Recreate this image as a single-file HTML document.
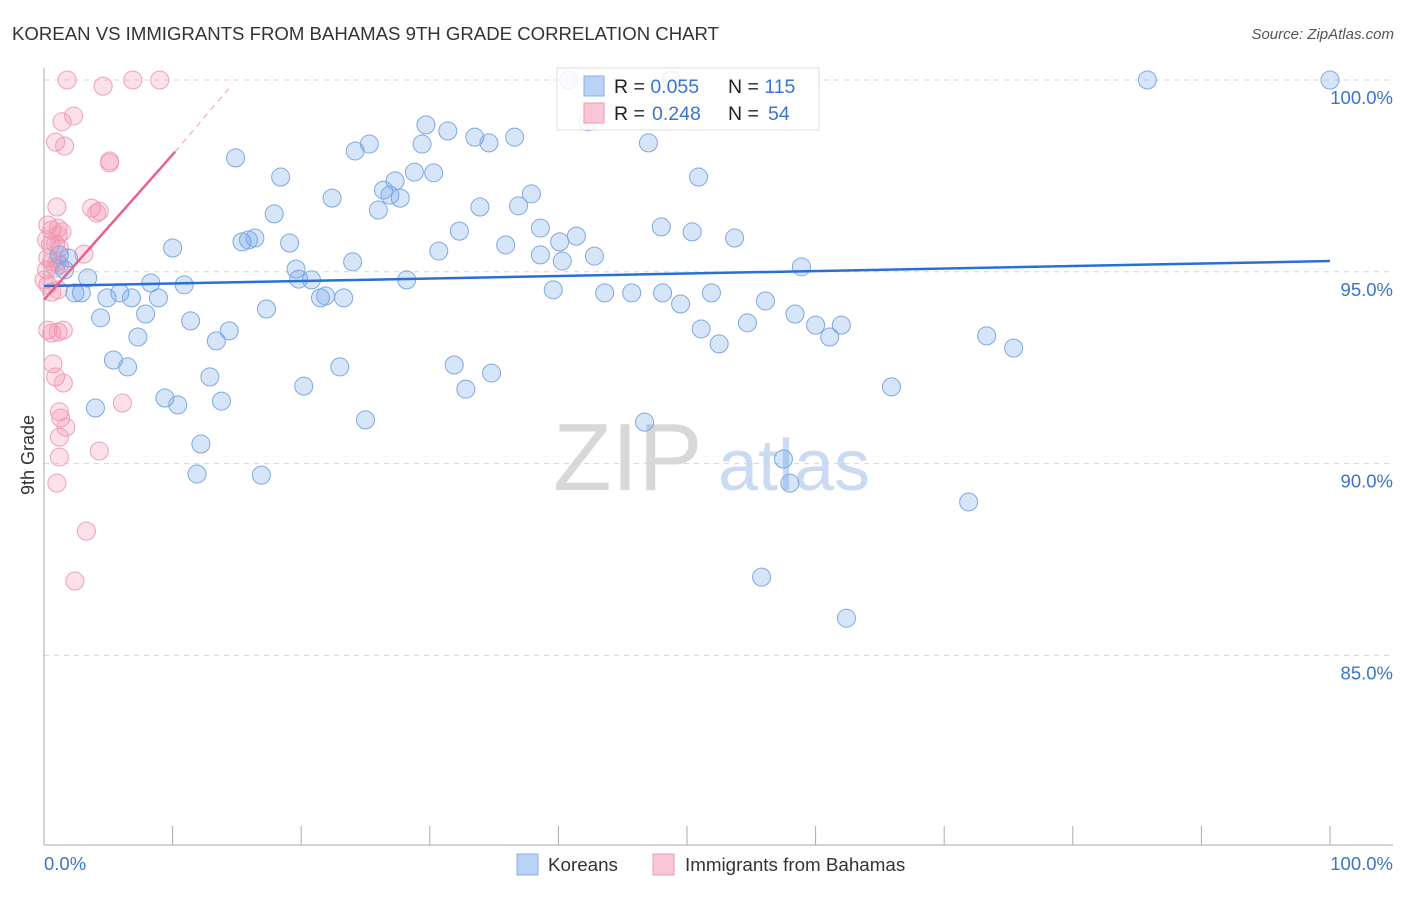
<!DOCTYPE html>
<html><head><meta charset="utf-8"><style>
body{margin:0;background:#fff;font-family:"Liberation Sans",sans-serif;}
svg text{font-family:"Liberation Sans",sans-serif;}
</style></head><body>
<svg id="chart" width="1406" height="892" viewBox="0 0 1406 892" xmlns="http://www.w3.org/2000/svg">
<text x="12" y="40" font-size="18.6" fill="#333">KOREAN VS IMMIGRANTS FROM BAHAMAS 9TH GRADE CORRELATION CHART</text>
<text x="1394" y="39" font-size="15" fill="#555" font-style="italic" text-anchor="end">Source: ZipAtlas.com</text>
<g>
<text x="553" y="490" font-size="96" fill="#d8d8d8" font-family="Liberation Serif">ZIP</text>
<text x="718" y="490" font-size="72" fill="#c9daf2">atlas</text>
</g>
<g id="grid"></g>
<g id="axes"></g>
<g id="pink"></g>
<g id="blue"></g>
<g id="trends"></g>
<text x="34" y="455" font-size="18" fill="#333" text-anchor="middle" transform="rotate(-90 34 455)">9th Grade</text>
<g>
<rect x="557" y="68" width="262" height="62" fill="#fff" fill-opacity="0.85" stroke="#ddd"/>
<rect x="584" y="76" width="20" height="20" fill="#b9d2f5" stroke="#8ab0e8"/>
<rect x="584" y="103" width="20" height="20" fill="#f8c6d4" stroke="#ef9ab3"/>
<text x="614" y="93" font-size="19.5" fill="#222">R = <tspan fill="#3a74d0">0.055</tspan><tspan x="728">N = </tspan><tspan fill="#3a74d0">115</tspan></text>
<text x="614" y="120" font-size="19.5" fill="#222">R = <tspan fill="#3a74d0" x="652">0.248</tspan><tspan x="728">N = </tspan><tspan fill="#3a74d0" x="768">54</tspan></text>
</g>
<g>
<rect x="517" y="854" width="21" height="21" fill="#b9d2f5" stroke="#8ab0e8"/>
<text x="548" y="871" font-size="18.8" fill="#333">Koreans</text>
<rect x="653" y="854" width="21" height="21" fill="#f8c6d4" stroke="#ef9ab3"/>
<text x="685" y="871" font-size="18.8" fill="#333">Immigrants from Bahamas</text>
</g>
</svg>
<script>
const blueX=[1.2,1.6,1.9,2.4,2.9,3.4,4.0,4.4,4.9,5.4,5.9,6.5,6.8,7.3,7.9,8.3,8.9,9.4,10.0,10.4,10.9,11.4,11.9,12.2,12.9,13.4,13.8,14.4,14.9,15.4,15.9,16.4,16.9,17.3,17.9,18.4,19.1,19.6,19.8,20.2,20.8,21.5,21.9,22.4,23.0,23.3,24.0,24.2,25.0,25.3,26.0,26.4,26.9,27.3,27.7,28.2,28.8,29.4,29.7,30.3,30.7,31.4,31.9,32.3,32.8,33.5,33.9,34.6,34.8,35.9,36.6,36.9,37.9,38.6,38.6,39.6,40.1,40.3,40.8,41.4,42.3,42.8,43.6,45.7,46.7,47.0,48.0,48.1,48.8,49.5,50.4,50.9,51.1,51.9,52.5,53.7,54.7,55.8,56.1,57.5,58.0,58.4,58.9,60.0,61.1,62.0,62.4,65.9,71.9,73.3,75.4,85.8,100];
const blueY=[95.44,95.05,95.36,94.45,94.45,94.84,91.45,93.80,94.32,92.70,94.45,92.52,94.32,93.30,93.90,94.71,94.32,91.71,95.62,91.53,94.66,93.72,89.73,90.51,92.26,93.20,91.63,93.46,97.97,95.78,95.83,95.88,89.70,94.03,96.51,97.47,95.75,95.07,94.81,92.02,94.79,94.32,94.37,96.92,92.52,94.32,95.26,98.15,91.14,98.33,96.61,97.13,97.00,97.37,96.92,94.79,97.60,98.33,98.83,97.58,95.54,98.67,92.57,96.06,91.94,98.51,96.69,98.36,92.36,95.70,98.51,96.72,97.03,96.14,95.44,94.53,95.78,95.28,100,95.93,98.91,95.41,94.45,94.45,91.08,98.36,96.17,94.45,100,94.16,96.04,97.47,93.51,94.45,93.12,95.88,93.67,87.04,94.24,90.12,89.49,93.90,95.13,93.61,93.30,93.61,85.97,92.00,89.00,93.33,93.01,100,100];
const pinkX=[1.8,4.6,6.9,9.0,1.4,2.3,0.9,1.6,5.1,5.1,1.0,3.7,4.3,4.1,0.3,0.6,1.1,1.4,0.2,0.5,0.9,1.2,0.3,0.6,0.2,0.9,0.3,0.6,0,1.2,1.1,3.1,1.0,1.1,0.3,0.6,1.5,1.1,0.7,0.9,1.5,1.2,1.3,1.7,1.2,1.2,1.0,6.1,4.3,3.3,2.4];
const pinkY=[100,99.84,100,100,98.91,99.06,98.38,98.28,97.89,97.84,96.69,96.66,96.58,96.53,96.22,96.09,96.14,96.04,95.83,95.70,95.72,95.62,95.36,95.26,95.05,95.10,94.66,94.47,94.79,95.18,95.96,95.46,95.26,94.53,93.48,93.40,93.48,93.43,92.60,92.26,92.10,91.35,91.19,90.95,90.69,90.17,89.49,91.58,90.33,88.24,86.94];
const yTicks=[100,95,90,85];
const yTickLabels=["100.0%","95.0%","90.0%","85.0%"];
const xTicks=[0,10,20,30,40,50,60,70,80,90,100];
const blueTrend=[94.63,95.28];      // y at x=0, y at x=100
const pinkTrend=[94.27,98.13,99.87]; // y at x=0, x=10.2, x=14.6
const pinkTrendX=[0,10.2,14.6];

const NS="http://www.w3.org/2000/svg";
const X=v=>44+v*12.86, Y=v=>80+(100-v)*38.36;
function mk(tag,attrs,parent){const e=document.createElementNS(NS,tag);for(const k in attrs)e.setAttribute(k,attrs[k]);parent.appendChild(e);return e;}
const grid=document.getElementById('grid'),axes=document.getElementById('axes');
yTicks.forEach((t,i)=>{
 const l=mk('line',{x1:44,x2:1393,y1:Y(t),y2:Y(t),stroke:'#d5d5d5','stroke-dasharray':'5,5'},grid);
 
 
 const tx=mk('text',{x:1393,y:Y(t)+24,'font-size':18.5,fill:'#3a74d0','text-anchor':'end'},axes);
 tx.textContent=yTickLabels[i];
 
 
});
const ya=mk('line',{x1:44,x2:44,y1:68,y2:845,stroke:'#aaa'},axes);


const xa=mk('line',{x1:44,x2:1393,y1:845,y2:845,stroke:'#aaa'},axes);


xTicks.forEach(t=>{
 const l=mk('line',{x1:X(t),x2:X(t),y1:826,y2:845,stroke:'#aaa'},axes);
 
 
});
const x0=mk('text',{x:44,y:870,'font-size':18.5,fill:'#3a74d0'},axes);x0.textContent='0.0%';


const x1=mk('text',{x:1393,y:870,'font-size':18.5,fill:'#3a74d0','text-anchor':'end'},axes);x1.textContent='100.0%';



const pg=document.getElementById('pink');
pinkX.forEach((v,i)=>{
 const c=mk('circle',{cx:X(v),cy:Y(pinkY[i]),r:9,fill:'rgba(242,140,170,0.26)',stroke:'#eea0b8','stroke-width':1},pg);
 
 
});
const bg=document.getElementById('blue');
blueX.forEach((v,i)=>{
 const c=mk('circle',{cx:X(v),cy:Y(blueY[i]),r:9,fill:'rgba(110,160,235,0.28)',stroke:'#7ea8e4','stroke-width':1},bg);
 
 
});
const tg=document.getElementById('trends');
const bt=mk('line',{x1:X(0),y1:Y(blueTrend[0]),x2:X(100),y2:Y(blueTrend[1]),stroke:'#2a6fd6','stroke-width':2.5},tg);


const pt=mk('line',{x1:X(pinkTrendX[0]),y1:Y(pinkTrend[0]),x2:X(pinkTrendX[1]),y2:Y(pinkTrend[1]),stroke:'#e8618c','stroke-width':2.5},tg);


const pd=mk('line',{x1:X(pinkTrendX[1]),y1:Y(pinkTrend[1]),x2:X(pinkTrendX[2]),y2:Y(pinkTrend[2]),stroke:'#f0a0b8','stroke-width':1,'stroke-dasharray':'6,5'},tg);


</script>
</body></html>
